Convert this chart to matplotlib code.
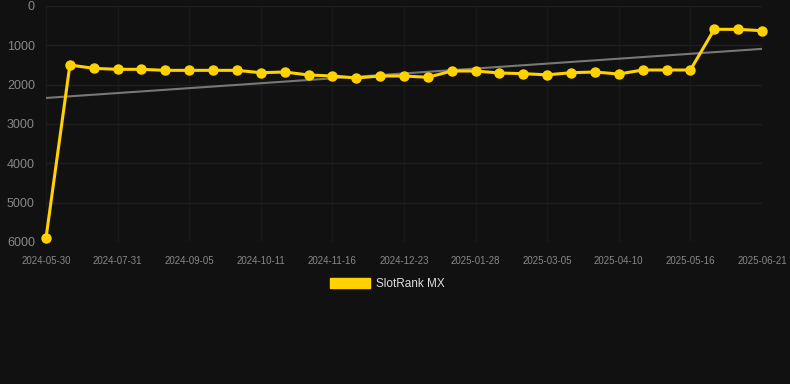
import numpy as np
import matplotlib
matplotlib.use('Agg')
import matplotlib.pyplot as plt
from matplotlib.patches import Patch

plt.rcParams['font.family'] = ['Liberation Sans', 'DejaVu Sans']

# rank values (lower is better, axis inverted)
ranks = [5900, 1500, 1585, 1610, 1610, 1636, 1636, 1636, 1636, 1696, 1678,
         1754, 1780, 1830, 1780, 1780, 1813, 1653, 1653, 1703, 1720, 1750,
         1696, 1678, 1729, 1627, 1627, 1627, 593, 593, 628]
tick_labels = ['2024-05-30', '2024-07-31', '2024-09-05', '2024-10-11', '2024-11-16',
               '2024-12-23', '2025-01-28', '2025-03-05', '2025-04-10', '2025-05-16',
               '2025-06-21']
series_name = 'SlotRank MX'

bg = '#111111'
gold = '#FFD200'
x = np.arange(len(ranks))

fig = plt.figure(figsize=(7.9, 3.84), dpi=100, facecolor=bg)
ax = fig.add_axes([46/790, 1-242/384, (762-46)/790, (242-6)/384], facecolor=bg)

# linear trend
k, b = np.polyfit(x, ranks, 1)
ax.plot(x, k*x + b, color='#777777', lw=1.5, zorder=2)

ax.plot(x, ranks, color=gold, lw=2.2, marker='o', ms=6.5, zorder=3, clip_on=False)

ax.set_xlim(0, len(ranks)-1)
ax.set_ylim(6000, 0)
ax.set_yticks(np.arange(0, 6001, 1000))
ax.set_xticks(x[::3])
ax.set_xticklabels(tick_labels)
ax.grid(True, axis='y', color='#1f1f1f', lw=1)
ax.grid(True, axis='x', color='#191919', lw=1)
for s in ax.spines.values():
    s.set_visible(False)
ax.tick_params(axis='y', colors='#888888', labelsize=9, length=0, pad=8)
ax.tick_params(axis='x', colors='#888888', labelsize=7, length=0, pad=10)

leg = fig.legend(handles=[Patch(color=gold, label=series_name)], loc='center',
                 bbox_to_anchor=(0.49, 1-284/384), frameon=False, fontsize=8.5,
                 handlelength=3.4, handleheight=0.85, handletextpad=0.5)
for t in leg.get_texts():
    t.set_color('#dddddd')

fig.savefig('out.png', dpi=100, facecolor=bg)
